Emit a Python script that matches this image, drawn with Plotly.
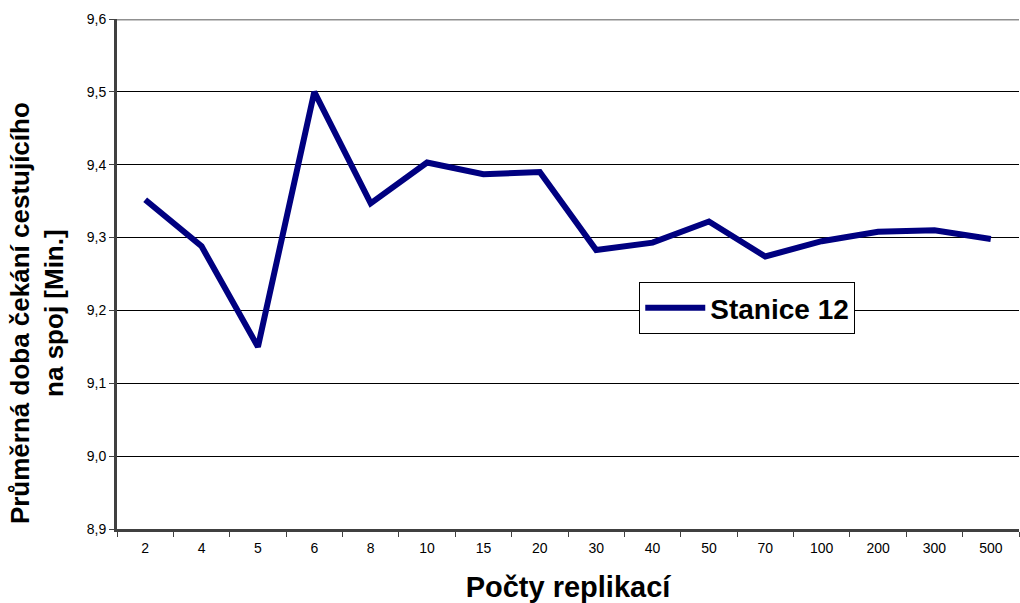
import plotly.graph_objects as go

categories = ["2", "4", "5", "6", "8", "10", "15", "20", "30", "40", "50", "70", "100", "200", "300", "500"]
values = [9.352, 9.288, 9.150, 9.500, 9.347, 9.403, 9.387, 9.390, 9.283, 9.293, 9.322, 9.274, 9.295, 9.308, 9.310, 9.298]
series_name = "Stanice 12"
y_ticks = [8.9, 9.0, 9.1, 9.2, 9.3, 9.4, 9.5, 9.6]

fig = go.Figure()
fig.add_trace(go.Scatter(
    x=categories, y=values, mode="lines", name=series_name,
    line=dict(color="#000080", width=6),
))

fig.update_layout(
    width=1020, height=603,
    margin=dict(l=117, r=1, t=19, b=74),
    paper_bgcolor="white", plot_bgcolor="white",
    separators=", ",
    font=dict(family="Liberation Sans, Arial, sans-serif", color="black"),
    showlegend=True,
    legend=dict(
        x=0.579, y=0.484, xanchor="left", yanchor="top",
        bgcolor="white", bordercolor="black", borderwidth=1,
        font=dict(size=28, family="Liberation Sans, Arial, sans-serif", weight="bold"),
        itemwidth=60,
    ),
    xaxis=dict(
        type="category",
        tickson="boundaries",
        ticks="outside", ticklen=5, tickcolor="#404040", tickwidth=1,
        showline=True, linecolor="#404040", linewidth=3,
        showgrid=False,
        tickfont=dict(size=14),
        ticklabelstandoff=4,
        title=dict(text="<b>Počty replikací</b>", font=dict(size=29), standoff=22),
        range=[-0.5, 15.5],
    ),
    yaxis=dict(
        range=[8.9, 9.6],
        tickvals=y_ticks,
        tickformat=".1f",
        ticks="outside", ticklen=5, tickcolor="#404040", tickwidth=1,
        showline=True, linecolor="#404040", linewidth=3,
        showgrid=True, gridcolor="black", gridwidth=1,
        zeroline=False,
        tickfont=dict(size=14),
    ),
    annotations=[dict(
        text="<b>Průměrná doba čekání cestujícího<br>na spoj [Min.]</b>",
        xref="paper", yref="paper", x=-0.0886, y=0.4235,
        xanchor="center", yanchor="middle", textangle=-90, showarrow=False,
        font=dict(size=26),
    )],
    shapes=[dict(type="line", xref="paper", yref="y", x0=0, x1=1, y0=9.6, y1=9.6,
                 line=dict(color="#909090", width=3))],
)

fig.write_html("out.html")
